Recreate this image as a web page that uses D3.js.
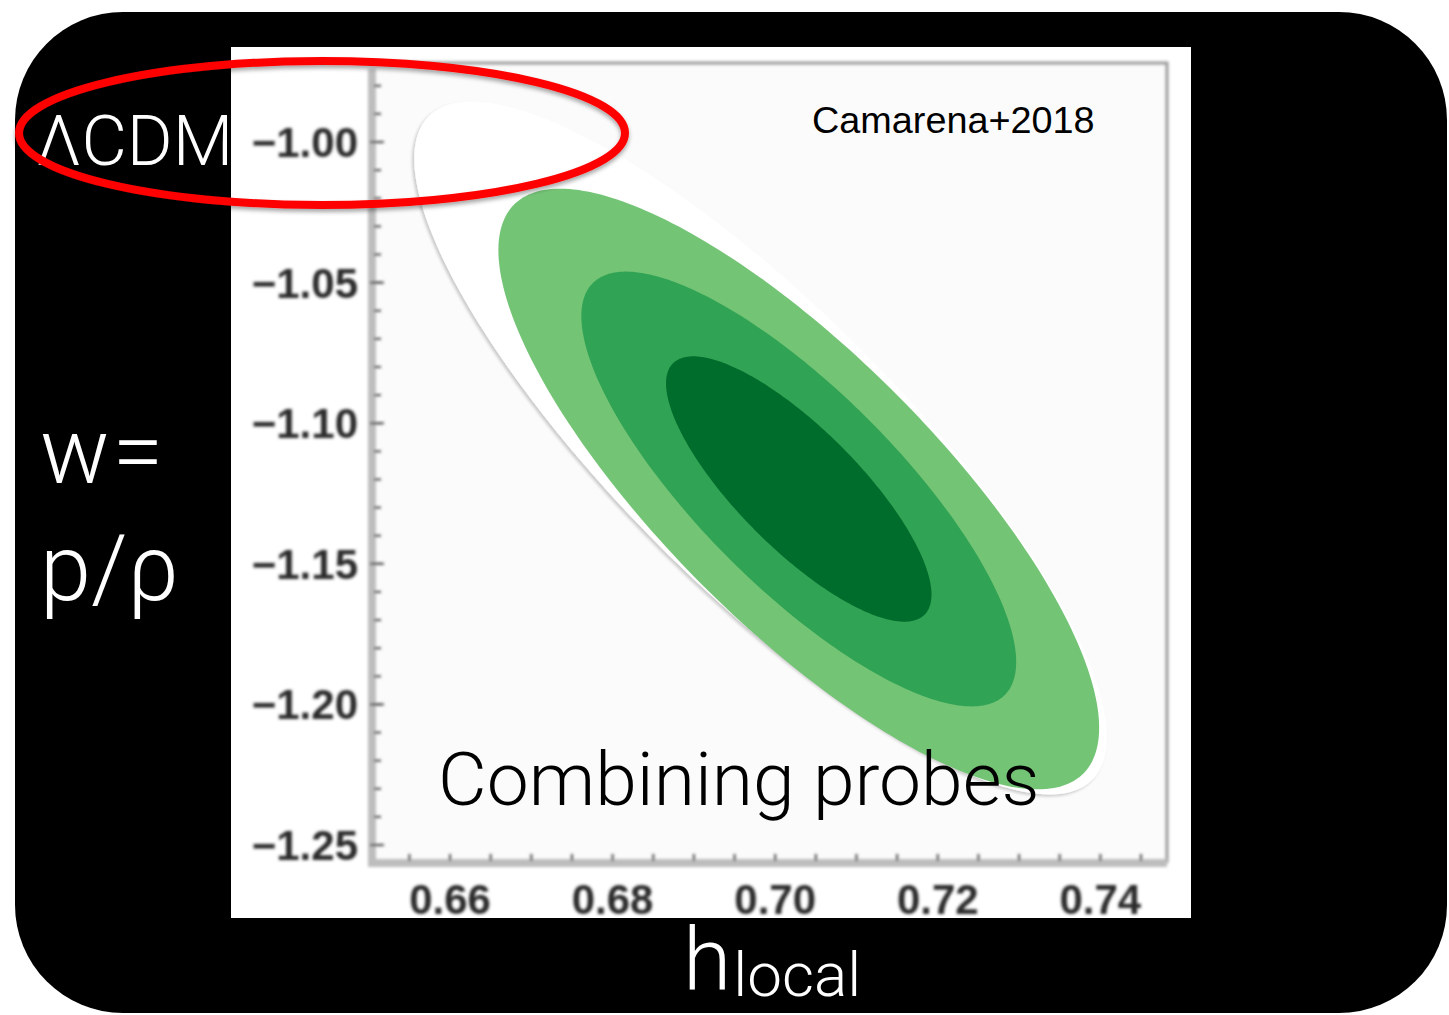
<!DOCTYPE html>
<html>
<head>
<meta charset="utf-8">
<script src="https://cdn.jsdelivr.net/npm/d3@7"></script>
<style>
  html, body { margin: 0; padding: 0; background: #ffffff; overflow: hidden; }
  svg { display: block; }
</style>
</head>
<body>
<svg id="chart" width="1449" height="1015"></svg>
<script>
// ---- Posterior summary for (h_local, w), combined probes ----
const posteriorMean  = [0.7029, -1.1234];   // [h, w]
const posteriorSigma = [0.010742, 0.03105]; // [sigma_h, sigma_w]
const posteriorRho   = -0.795;

// Credible regions, outermost first
const contourLevels = ["99.7%", "95.4%", "68.3%"];
const contourRadius = [3.44, 2.49, 1.52];   // sqrt(delta chi^2)
const contourColors = ["#74c476", "#31a354", "#006d2c"];

// Faint underlying region (masked in white)
const haloMean  = [0.6982, -1.1088];
const haloSigma = [0.0426, 0.1232];
const haloRho   = -0.835;

// Axes
const xDomain = [0.6504, 0.7482];
const yDomain = [-0.9719, -1.2564];
const xMajorTicks  = [0.66, 0.68, 0.70, 0.72, 0.74];
const xTickLabels  = ["0.66", "0.68", "0.70", "0.72", "0.74"];
const yMajorTicks  = [-1.00, -1.05, -1.10, -1.15, -1.20, -1.25];
const yTickLabels  = ["\u22121.00", "\u22121.05", "\u22121.10", "\u22121.15", "\u22121.20", "\u22121.25"];
const xMinorStep = 0.005;
const yMinorStep = 0.01;

const svg = d3.select("#chart");
const defs = svg.append("defs");

defs.append("filter").attr("id", "soft")
  .attr("x", "-5%").attr("y", "-5%").attr("width", "110%").attr("height", "110%")
  .append("feGaussianBlur").attr("stdDeviation", 1.6);

const haloShadow = defs.append("filter").attr("id", "haloShadow")
  .attr("x", "-10%").attr("y", "-10%").attr("width", "120%").attr("height", "120%");
haloShadow.append("feDropShadow")
  .attr("dx", -2).attr("dy", 2).attr("stdDeviation", 1.5)
  .attr("flood-color", "#000").attr("flood-opacity", 0.2);

const redShadow = defs.append("filter").attr("id", "redShadow")
  .attr("x", "-10%").attr("y", "-20%").attr("width", "120%").attr("height", "140%");
redShadow.append("feDropShadow")
  .attr("dx", 0).attr("dy", 3).attr("stdDeviation", 2)
  .attr("flood-color", "#000").attr("flood-opacity", 0.35);

// ---- Slide frame ----
svg.append("rect")
  .attr("x", 15).attr("y", 12).attr("width", 1432).attr("height", 1001)
  .attr("rx", 108).attr("ry", 108)
  .attr("fill", "#000");

// White figure panel
const panel = { x0: 231, y0: 47, x1: 1191, y1: 918 };
svg.append("rect")
  .attr("x", panel.x0).attr("y", panel.y0)
  .attr("width", panel.x1 - panel.x0).attr("height", panel.y1 - panel.y0)
  .attr("fill", "#ffffff");

// ---- Scales ----
const plot = { left: 372, right: 1167, top: 63, bottom: 863 };
const x = d3.scaleLinear().domain(xDomain).range([plot.left, plot.right]);
const y = d3.scaleLinear().domain(yDomain).range([plot.top, plot.bottom]);

svg.append("rect")
  .attr("x", plot.left).attr("y", plot.top)
  .attr("width", plot.right - plot.left).attr("height", plot.bottom - plot.top)
  .attr("fill", "#fbfbfb");

// ---- Gaussian contour outline in data space ----
function contour(mean, sigma, rho, r) {
  const n = 260;
  const s = Math.sqrt(1 - rho * rho);
  return d3.range(n).map(i => {
    const t = 2 * Math.PI * i / n;
    const u = Math.cos(t), v = Math.sin(t);
    const h = mean[0] + r * sigma[0] * u;
    const w = mean[1] + r * sigma[1] * (rho * u + s * v);
    return [x(h), y(w)];
  });
}
const closed = d3.line().curve(d3.curveLinearClosed);

svg.append("path")
  .attr("d", closed(contour(haloMean, haloSigma, haloRho, 1)))
  .attr("fill", "#ffffff")
  .attr("filter", "url(#haloShadow)");

svg.append("g").attr("class", "contours")
  .selectAll("path")
  .data(contourLevels)
  .join("path")
  .attr("d", (d, i) => closed(contour(posteriorMean, posteriorSigma, posteriorRho, contourRadius[i])))
  .attr("fill", (d, i) => contourColors[i]);

// ---- Axes (soft, as in the printed figure) ----
const axes = svg.append("g").attr("filter", "url(#soft)");

// top and right frame
axes.append("path")
  .attr("d", `M${plot.left},${plot.top}H${plot.right}V${plot.bottom}`)
  .attr("fill", "none").attr("stroke", "#9a9a9a").attr("stroke-width", 3);

// left and bottom axis lines
axes.append("path")
  .attr("d", `M${plot.left},${plot.top + 6}V${plot.bottom}H${plot.right}`)
  .attr("fill", "none").attr("stroke", "#bdbdbd").attr("stroke-width", 8);

const xMinor = d3.range(0.655, 0.7451, xMinorStep);
const yMinor = d3.range(-1.25, -0.9749, yMinorStep);

axes.append("g").selectAll("line")
  .data(xMinor).join("line")
  .attr("x1", d => x(d)).attr("x2", d => x(d))
  .attr("y1", plot.bottom - 9).attr("y2", plot.bottom - 2)
  .attr("stroke", "#555").attr("stroke-width", 2.2);

axes.append("g").selectAll("line")
  .data(yMinor).join("line")
  .attr("y1", d => y(d)).attr("y2", d => y(d))
  .attr("x1", plot.left + 2).attr("x2", plot.left + 9)
  .attr("stroke", "#555").attr("stroke-width", 2.2);

axes.append("g").selectAll("line")
  .data(yMajorTicks).join("line")
  .attr("y1", d => y(d)).attr("y2", d => y(d))
  .attr("x1", plot.left - 2).attr("x2", plot.left + 12)
  .attr("stroke", "#555").attr("stroke-width", 2.2);

axes.append("g").selectAll("text")
  .data(xMajorTicks).join("text")
  .attr("x", d => x(d)).attr("y", 914)
  .attr("text-anchor", "middle")
  .attr("font-family", "'Liberation Sans', Arial, sans-serif")
  .attr("font-weight", "bold").attr("font-size", 42)
  .attr("fill", "#2a2a2a")
  .text((d, i) => xTickLabels[i]);

axes.append("g").selectAll("text")
  .data(yMajorTicks).join("text")
  .attr("x", 358).attr("y", d => y(d) + 15)
  .attr("text-anchor", "end")
  .attr("font-family", "'Liberation Sans', Arial, sans-serif")
  .attr("font-weight", "bold").attr("font-size", 42)
  .attr("fill", "#2a2a2a")
  .text((d, i) => yTickLabels[i]);

// ---- Annotations ----
const light = "Roboto, 'Open Sans', sans-serif";

svg.append("text")
  .attr("x", 812).attr("y", 133)
  .attr("font-family", "'Liberation Sans', Arial, sans-serif")
  .attr("font-size", 37.8).attr("fill", "#000")
  .text("Camarena+2018");

svg.append("text")
  .attr("x", 438).attr("y", 805)
  .attr("font-family", light).attr("font-weight", 300)
  .attr("font-size", 75).attr("fill", "#000")
  .text("Combining probes");

svg.append("text")
  .attr("x", 36).attr("y", 165)
  .attr("font-family", light).attr("font-weight", 300)
  .attr("font-size", 70).attr("fill", "#fff")
  .text("\u039BCDM");

svg.append("text")
  .attr("x", 40).attr("y", 483)
  .attr("font-family", light).attr("font-weight", 300)
  .attr("font-size", 92).attr("fill", "#fff")
  .attr("letter-spacing", 3)
  .text("w=");

svg.append("text")
  .attr("x", 40).attr("y", 600)
  .attr("font-family", light).attr("font-weight", 300)
  .attr("font-size", 92).attr("fill", "#fff")
  .text("p/\u03C1");

const xlab = svg.append("text")
  .attr("x", 683).attr("y", 990)
  .attr("font-family", light).attr("font-weight", 300)
  .attr("font-size", 88).attr("fill", "#fff");
xlab.append("tspan").text("h");
xlab.append("tspan").attr("font-size", 62).attr("dy", 6).attr("dx", 2).text("local");

// Highlight around the LambdaCDM value w = -1
svg.append("ellipse")
  .attr("cx", 322).attr("cy", 133)
  .attr("rx", 303).attr("ry", 72)
  .attr("fill", "none")
  .attr("stroke", "#ff0000").attr("stroke-width", 8)
  .attr("filter", "url(#redShadow)");
</script>
</body>
</html>
